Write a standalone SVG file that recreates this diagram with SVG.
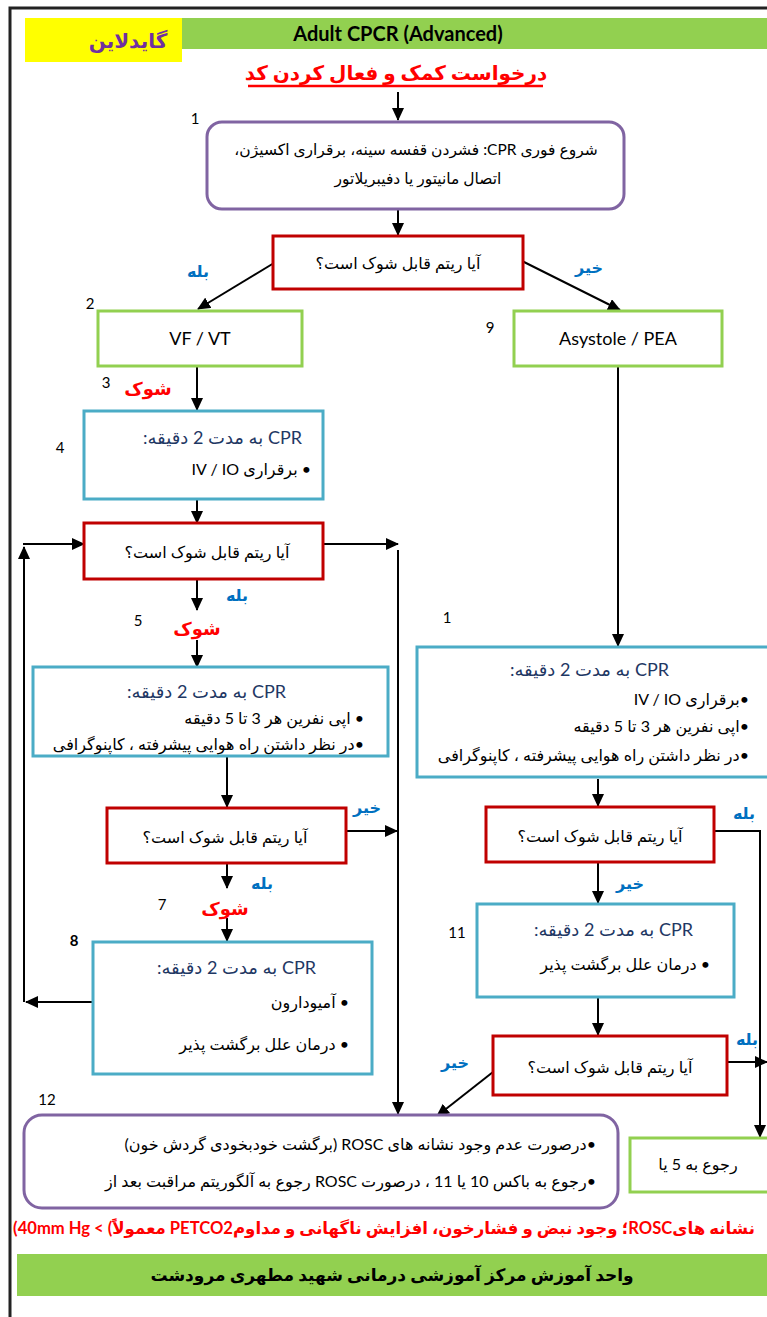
<svg xmlns="http://www.w3.org/2000/svg" width="767" height="1317" viewBox="0 0 767 1317">
<style>
text{font-family:"Lato","DejaVu Sans",sans-serif;fill:#000}
.fa{direction:rtl;unicode-bidi:embed}
.t{font-size:16px}
.dec{font-size:16px;text-anchor:middle}
.ttl{font-size:18px;fill:#1F3864}
.num{font-size:15px;text-anchor:middle}
.yes{font-size:16px;font-weight:bold;fill:#0070C0;text-anchor:middle}
.shock{font-size:18px;font-weight:bold;fill:#FF0000;text-anchor:middle}
.rd{fill:#fff;stroke:#C00000;stroke-width:3}
.gr{fill:#fff;stroke:#92D050;stroke-width:3}
.bl{fill:#fff;stroke:#4BACC6;stroke-width:3}
.pu{fill:#fff;stroke:#8064A2;stroke-width:3}
.c{fill:none;stroke:#000;stroke-width:2}
</style>
<defs>
<marker id="ah" markerWidth="13" markerHeight="12" refX="12" refY="6" orient="auto" markerUnits="userSpaceOnUse"><path d="M0,0 L13,6 L0,12 z" fill="#000"/></marker>
</defs>
<rect x="0" y="0" width="767" height="1317" fill="#fff"/>
<g id="page">
<path d="M767,8 H10 V1317" fill="none" stroke="#222" stroke-width="3"/>
</g>
<g id="header">
<rect x="25" y="18" width="157" height="44" fill="#FFFF00"/>
<rect x="182" y="18" width="585" height="31" fill="#92D050"/>
<text x="128" y="48" class="fa" style="font-size:20px;font-weight:bold;fill:#7030A0;text-anchor:middle">گایدلاین</text>
<text x="398" y="41" style="font-size:20px;font-weight:bold;text-anchor:middle">Adult CPCR (Advanced)</text>
<text x="396" y="80" class="fa" style="font-size:20px;font-weight:bold;fill:#FF0000;text-anchor:middle">درخواست کمک و فعال کردن کد</text>
<line x1="248" y1="86" x2="543" y2="86" stroke="#FF0000" stroke-width="2.5"/>
</g>
<g id="connectors">
<path class="c" d="M398,92 V120" marker-end="url(#ah)"/>
<path class="c" d="M398,209 V235" marker-end="url(#ah)"/>
<path class="c" d="M274,263 L198,309" marker-end="url(#ah)"/>
<path class="c" d="M522,261 L620,310" marker-end="url(#ah)"/>
<path class="c" d="M197,366 V410" marker-end="url(#ah)"/>
<path class="c" d="M197,500 V523" marker-end="url(#ah)"/>
<path class="c" d="M323,544 H398" marker-end="url(#ah)"/>
<path class="c" d="M93,1002 H26" marker-end="url(#ah)"/>
<path class="c" d="M24,1002 V547" marker-end="url(#ah)"/>
<path class="c" d="M23,544 H84" marker-end="url(#ah)"/>
<path class="c" d="M398,550 V1114" marker-end="url(#ah)"/>
<path class="c" d="M197,579 V610" marker-end="url(#ah)"/>
<path class="c" d="M197,640 V667" marker-end="url(#ah)"/>
<path class="c" d="M227,757 V807" marker-end="url(#ah)"/>
<path class="c" d="M347,831 H397" marker-end="url(#ah)"/>
<path class="c" d="M227,863 V888" marker-end="url(#ah)"/>
<path class="c" d="M227,918 V941" marker-end="url(#ah)"/>
<path class="c" d="M618,366 V646" marker-end="url(#ah)"/>
<path class="c" d="M598,779 V806" marker-end="url(#ah)"/>
<path class="c" d="M715,831 H760 V1137" marker-end="url(#ah)"/>
<path class="c" d="M598,863 V903" marker-end="url(#ah)"/>
<path class="c" d="M598,997 V1035" marker-end="url(#ah)"/>
<path class="c" d="M727,1062 H767" marker-end="url(#ah)"/>
<path class="c" d="M493,1072 L437,1116" marker-end="url(#ah)"/>
</g>
<g id="labels">
<text x="198" y="277" class="yes fa">بله</text>
<text x="589" y="273" class="yes fa">خیر</text>
<text x="148" y="395" class="shock fa">شوک</text>
<text x="237" y="601" class="yes fa">بله</text>
<text x="197" y="635" class="shock fa">شوک</text>
<text x="367" y="813" class="yes fa">خیر</text>
<text x="262" y="889" class="yes fa">بله</text>
<text x="225" y="915" class="shock fa">شوک</text>
<text x="744" y="819" class="yes fa">بله</text>
<text x="630" y="889" class="yes fa">خیر</text>
<text x="747" y="1045" class="yes fa">بله</text>
<text x="455" y="1068" class="yes fa">خیر</text>
<text x="195" y="124" class="num">1</text>
<text x="90" y="309" class="num">2</text>
<text x="490" y="333" class="num">9</text>
<text x="106" y="388" class="num">3</text>
<text x="60" y="453" class="num">4</text>
<text x="138" y="626" class="num">5</text>
<text x="52" y="698" class="num">6</text>
<text x="162" y="910" class="num">7</text>
<text x="74" y="946" class="num" style="font-weight:bold">8</text>
<text x="447" y="623" class="num">1</text>
<text x="457" y="938" class="num">11</text>
<text x="47" y="1105" class="num">12</text>
</g>
<g id="n1">
<rect x="207" y="122" width="417" height="87" rx="15" class="pu"/>
<text x="416" y="155" class="fa" style="font-size:15.5px;text-anchor:middle">شروع فوری CPR: فشردن قفسه سینه، برقراری اکسیژن،</text>
<text x="418" y="184" class="fa" style="font-size:15.5px;text-anchor:middle">اتصال مانیتور یا دفیبریلاتور</text>
</g>
<g id="d1">
<rect x="273" y="236" width="250" height="53" class="rd"/>
<text x="398" y="269" class="fa dec">آیا ریتم قابل شوک است؟</text>
</g>
<g id="n2">
<rect x="98" y="311" width="204" height="55" class="gr"/>
<text x="200" y="345" style="font-size:18px;text-anchor:middle">VF / VT</text>
</g>
<g id="n9">
<rect x="514" y="311" width="208" height="55" class="gr"/>
<text x="618" y="345" style="font-size:18px;text-anchor:middle">Asystole / PEA</text>
</g>
<g id="n4">
<rect x="84" y="411" width="239" height="88" class="bl"/>
<text x="302" y="444" class="fa ttl">CPR به مدت 2 دقیقه:</text>
<text x="311" y="475" class="fa t">• برقراری IV / IO</text>
</g>
<g id="d2">
<rect x="84" y="523" width="239" height="56" class="rd"/>
<text x="207" y="558" class="fa dec">آیا ریتم قابل شوک است؟</text>
</g>
<g id="n6">
<rect x="33" y="667" width="355" height="89" class="bl"/>
<text x="286" y="698" class="fa ttl">CPR به مدت 2 دقیقه:</text>
<text x="364" y="724" class="fa t">• اپی نفرین هر 3 تا 5 دقیقه</text>
<text x="364" y="750" class="fa t">•در نظر داشتن راه هوایی پیشرفته ، کاپنوگرافی</text>
</g>
<g id="d3">
<rect x="107" y="808" width="239" height="55" class="rd"/>
<text x="225" y="843" class="fa dec">آیا ریتم قابل شوک است؟</text>
</g>
<g id="n8">
<rect x="93" y="942" width="279" height="132" class="bl"/>
<text x="316" y="974" class="fa ttl">CPR به مدت 2 دقیقه:</text>
<text x="349" y="1008" class="fa t">• آمیودارون</text>
<text x="349" y="1050" class="fa t">• درمان علل برگشت پذیر</text>
</g>
<g id="n10">
<rect x="417" y="647" width="352" height="130" class="bl"/>
<text x="669" y="676" class="fa ttl">CPR به مدت 2 دقیقه:</text>
<text x="749" y="705" class="fa t">•برقراری IV / IO</text>
<text x="749" y="732" class="fa t">•اپی نفرین هر 3 تا 5 دقیقه</text>
<text x="749" y="761" class="fa t">•در نظر داشتن راه هوایی پیشرفته ، کاپنوگرافی</text>
</g>
<g id="d4">
<rect x="486" y="807" width="228" height="55" class="rd"/>
<text x="600" y="842" class="fa dec">آیا ریتم قابل شوک است؟</text>
</g>
<g id="n11">
<rect x="477" y="904" width="257" height="93" class="bl"/>
<text x="693" y="936" class="fa ttl">CPR به مدت 2 دقیقه:</text>
<text x="710" y="970" class="fa t">• درمان علل برگشت پذیر</text>
</g>
<g id="d5">
<rect x="493" y="1036" width="234" height="59" class="rd"/>
<text x="610" y="1073" class="fa dec">آیا ریتم قابل شوک است؟</text>
</g>
<g id="n12">
<rect x="24" y="1115" width="594" height="93" rx="18" class="pu"/>
<text x="596" y="1150" class="fa t">•درصورت عدم وجود نشانه های ROSC  (برگشت خودبخودی گردش خون)</text>
<text x="596" y="1187" class="fa t">•رجوع به باکس 10 یا 11 ، درصورت ROSC رجوع به آلگوریتم مراقبت بعد از</text>
</g>
<g id="n13">
<rect x="630" y="1138" width="140" height="54" class="gr"/>
<text x="698" y="1170" class="fa t" style="text-anchor:middle">رجوع به 5 یا</text>
</g>
<g id="footer">
<text x="384" y="1234" class="fa" style="font-size:16.6px;font-weight:bold;fill:#FF0000;text-anchor:middle">نشانه هایROSC؛ وجود نبض و فشارخون، افزایش ناگهانی و مداومPETCO2 معمولاً) &gt; 40mm Hg)</text>
<rect x="17" y="1254" width="750" height="42" fill="#92D050"/>
<text x="392" y="1281" class="fa" style="font-size:17px;font-weight:bold;text-anchor:middle">واحد آموزش  مرکز آموزشی درمانی شهید مطهری مرودشت</text>
</g>
</svg>
